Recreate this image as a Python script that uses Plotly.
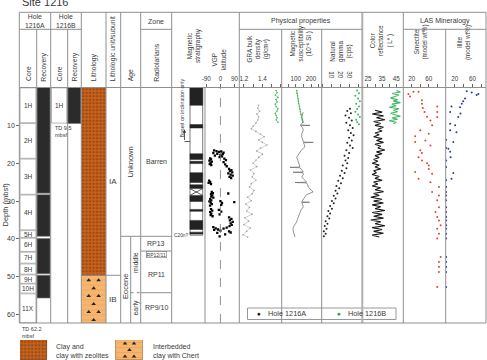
import plotly.graph_objects as go
import numpy as np

W, H = 487, 360
def X(px): return px / W
def Y(py): return 1 - py / H

# ---------------- DATA ----------------
core_a_names = ["1H", "2H", "3H", "4H", "5H", "6H", "7H", "8H", "9H", "10H", "11X"]
core_a_top = [0, 9.4, 18.8, 28.3, 37.7, 39.7, 43.4, 46.5, 49.4, 51.8, 54.4]
core_a_bot = [9.4, 18.8, 28.3, 37.7, 39.7, 43.4, 46.5, 49.4, 51.8, 54.4, 62.2]
rec_a_top = [0, 28.3, 39.9, 49.6]
rec_a_bot = [27.9, 39.3, 49.2, 55.6]
core_b_names = ["1H"]
core_b_top = [0]
core_b_bot = [9.5]
rec_b_top = [0]
rec_b_bot = [9.5]
lith_names = ["Clay and<br>clay with zeolites", "Interbedded<br>clay with Chert"]
lith_top = [0, 49.6]
lith_bot = [49.6, 62.2]
unit_names = ["IA", "IB"]
unit_top = [0, 49.6]
unit_bot = [49.6, 62.2]
zone_names = ["Barren", "RP13", "RP12/11", "RP11", "RP9/10"]
zone_top = [0, 39.3, 43.2, 44.8, 54.2]
zone_bot = [39.3, 43.2, 44.8, 54.2, 62.2]
age_sub_names = ["middle", "early"]
age_sub_top = [39.3, 54.2]
age_sub_bot = [54.2, 62.2]
total_depth = 62.2
hole_names = ["Hole 1216A", "Hole 1216B"]

# polarity (black = normal)
pol_top = [0.0, 9.8, 17.5, 19.5, 22.5, 25.7, 28.5, 32.2, 35.1, 38.2]
pol_bot = [4.7, 10.7, 19.0, 20.1, 25.1, 26.7, 30.1, 32.7, 37.5, 38.7]
pol_base = 39.0
pol_uncertain = [26.7, 28.5]

vgp_depth = [16.6, 16.8, 17.0, 16.9, 17.3, 17.5, 17.8, 17.6, 18.0, 18.2, 18.4, 17.2,
             18.7, 19.0, 19.3, 19.6, 19.9, 20.2, 20.5, 18.8, 19.2, 19.7, 20.3, 20.8,
             21.5, 21.8, 22.1, 22.4, 22.7, 23.0, 23.3, 23.6, 23.9,
             24.6, 24.9, 25.2, 25.5,
             27.6, 27.9, 28.2, 28.5, 28.8, 29.1, 28.0,
             29.4, 29.8, 30.1, 30.4, 30.8, 31.2, 30.0, 30.5, 31.0, 30.3,
             32.1, 32.5, 32.9, 33.3, 33.7, 34.0, 32.3, 32.8, 33.5,
             34.3, 34.7, 35.1, 35.5, 35.9, 36.3, 36.6,
             36.9, 37.2, 37.5, 37.8, 37.3, 37.0, 38.0, 38.3, 37.6, 38.4, 38.8, 39.3]
vgp_lat = [-40, -25, -10, 5, -45, -20, 0, 15, -35, 10, -5, 20,
           -65, -60, -70, -55, -62, -68, -58, 25, 35, 20, 30, 40,
           55, 70, 60, 75, 50, 65, 78, 58, 68,
           -72, -65, -75, -60,
           -55, -48, -60, -52, -58, -45, 50,
           -65, -58, -70, -62, -55, -66, 0, 10, 5, 88,
           -60, -52, -65, -58, -62, -50, -10, 5, -5,
           55, 70, 60, 78, 65, 72, 58,
           -45, -30, -15, 0, 20, 40, 55, 65, -40, -20, 30, -5]

gra_a_depth = [4.7, 5.5, 6.3, 7.0, 7.8, 8.6, 9.4, 10.2, 10.9, 11.6, 12.3, 13.0, 13.8, 14.5, 15.2,
               16.0, 16.8, 17.6, 18.4, 19.2, 20.0, 20.9, 21.8, 22.7, 23.6, 24.5, 25.4, 26.3, 27.2,
               28.1, 29.0, 29.9, 30.8, 31.7, 32.6, 33.5, 34.4, 35.3, 36.2, 37.1, 38.0, 38.9, 39.5]
gra_a_val = [1.36, 1.35, 1.37, 1.34, 1.36, 1.35, 1.33, 1.30, 1.28, 1.33, 1.38, 1.42, 1.36, 1.40, 1.45,
             1.38, 1.34, 1.40, 1.36, 1.33, 1.30, 1.34, 1.27, 1.31, 1.29, 1.33, 1.28, 1.26, 1.31,
             1.29, 1.24, 1.28, 1.22, 1.26, 1.23, 1.29, 1.21, 1.25, 1.20, 1.27, 1.23, 1.19, 1.24]
gra_b_depth = [0.8, 1.4, 2.0, 2.6, 3.2, 3.8, 4.4, 5.0, 5.6, 6.2, 6.8, 7.4, 8.0, 8.6, 9.2]
gra_b_val = [1.55, 1.56, 1.54, 1.57, 1.55, 1.56, 1.54, 1.55, 1.57, 1.56, 1.54, 1.55, 1.56, 1.55, 1.57]

ms_a_depth = [6.5, 7.2, 7.8, 8.5, 9.2, 9.9, 10.0, 10.1, 10.6, 11.3, 12.2, 13.1, 13.8, 14.4, 14.5, 14.6,
              15.1, 15.7, 16.4, 17.1, 17.8, 18.4, 19.0, 19.7, 20.4, 21.0, 21.1, 21.2, 21.7, 22.3, 22.4,
              22.5, 23.0, 23.6, 24.3, 25.0, 25.1, 25.2, 25.7, 26.3, 27.0, 27.6, 28.3, 28.9, 29.5, 30.2,
              30.3, 30.4, 30.9, 31.6, 32.3, 32.9, 33.6, 34.2, 34.9, 35.5, 36.2, 36.9, 37.6, 38.2, 38.9, 39.5]
ms_a_val = [149, 142, 139, 146, 149, 130, 193, 132, 145, 149, 140, 139, 146, 150, 215, 150,
            156, 160, 140, 128, 115, 106, 112, 117, 122, 128, 62, 126, 140, 149, 82,
            147, 150, 139, 155, 172, 95, 170, 178, 182, 200, 213, 170, 160, 150, 139,
            190, 140, 145, 149, 135, 128, 120, 117, 110, 106, 95, 84, 82, 84, 90, 95]
ms_b_depth = [0.8, 1.5, 2.2, 2.9, 3.6, 4.3, 5.0, 5.7, 6.4, 7.1, 7.8, 8.5, 9.2]
ms_b_val = [106, 108, 112, 115, 117, 120, 124, 127, 130, 134, 138, 142, 146]

ng_a_depth = [5.6, 6.2, 6.8, 7.4, 8.0, 8.7, 9.3, 10.0, 10.7, 11.3, 12.0, 12.6, 13.3, 14.0, 14.6, 15.3,
              16.0, 16.6, 17.3, 18.0, 18.6, 19.3, 20.0, 20.6, 21.3, 22.0, 22.6, 23.3, 24.0, 24.6, 25.3,
              26.0, 26.6, 27.3, 28.0, 28.6, 29.3, 30.0, 30.6, 31.3, 32.0, 32.6, 33.3, 34.0, 34.6, 35.3,
              36.0, 36.6, 37.3, 38.0, 38.6, 39.3]
ng_a_val = [30, 27, 31, 25, 29, 32, 26, 30, 33, 28, 31, 34, 29, 32, 27, 30,
            33, 26, 29, 24, 28, 25, 27, 22, 26, 21, 24, 19, 22, 17, 20,
            15, 18, 14, 16, 12, 14, 10, 12, 8, 10, 6, 8, 5, 7, 3,
            5, 2, 4, 1, 3, 1]
ng_b_depth = [0.8, 1.5, 2.2, 2.9, 3.6, 4.3, 5.0, 5.7, 6.4, 7.1, 7.8, 8.5, 9.2, 9.7]
ng_b_val = [38, 40, 36, 39, 41, 37, 40, 38, 36, 39, 41, 37, 38, 40]

cr_a_depth = [6.0, 6.5, 7.0, 7.5, 8.0, 8.5, 9.0, 9.5, 10.0, 10.5, 11.0, 11.5, 12.0, 12.5, 13.0, 13.5,
              14.0, 14.5, 15.0, 15.5, 16.0, 16.5, 17.0, 17.5, 18.0, 18.5, 19.0, 19.5, 20.0, 20.5,
              21.0, 21.5, 22.0, 22.5, 23.0, 23.5, 24.0, 24.5, 25.0, 25.5, 26.0, 26.5, 27.0, 27.5,
              28.0, 28.5, 29.0, 29.5, 30.0, 30.5, 31.0, 31.5, 32.0, 32.5, 33.0, 33.5, 34.0, 34.5,
              35.0, 35.5, 36.0, 36.5, 37.0, 37.5, 38.0, 38.5, 39.0, 39.5]
cr_a_val = [30, 35, 28, 36, 31, 37, 29, 34, 30, 36, 32, 35, 30, 33, 29, 35,
            31, 36, 30, 34, 32, 37, 31, 35, 30, 33, 29, 32, 28, 33,
            30, 34, 29, 31, 28, 33, 30, 35, 29, 32, 28, 34, 30, 36,
            29, 33, 27, 35, 29, 36, 28, 34, 30, 37, 28, 35, 29, 36,
            27, 34, 30, 37, 28, 35, 29, 36, 28, 33]
cr_b_depth = [0.8, 1.2, 1.6, 2.0, 2.4, 2.8, 3.2, 3.6, 4.0, 4.4, 4.8, 5.2, 5.6, 6.0, 6.4, 6.8,
              7.2, 7.6, 8.0, 8.4, 8.8, 9.2, 9.6]
cr_b_val = [45, 48, 42, 47, 44, 41, 46, 43, 48, 42, 45, 40, 47, 43, 46, 41,
            44, 48, 42, 46, 40, 45, 43]

sm_depth = [1.1, 1.1, 1.7, 2.4, 3.4, 4.3, 5.0, 5.4, 6.5, 6.5, 7.7, 7.8, 8.7, 10.0, 11.3, 12.2,
            12.9, 14.0, 14.4, 15.3, 16.6, 17.3, 18.4, 19.3, 20.0, 20.6, 21.5, 22.3, 22.8, 24.1,
            25.0, 26.3, 27.6, 28.5, 29.8, 31.6, 32.9, 34.2, 35.1, 36.4, 37.3, 38.6, 39.9, 44.8,
            46.1, 47.4, 48.7, 52.7]
sm_val = [24, 36, 12, 16, 44, 44, 80, 46, 50, 80, 56, 80, 64, 68, 40, 60,
          28, 52, 28, 64, 40, 44, 36, 44, 56, 60, 60, 28, 68, 36,
          64, 84, 68, 84, 80, 84, 76, 80, 84, 88, 80, 84, 80, 88,
          84, 84, 84, 80]

il_depth = [1.0, 1.3, 1.7, 2.0, 2.9, 3.6, 4.3, 5.0, 5.2, 6.5, 6.9, 7.8, 9.6, 10.0, 11.3, 11.8,
            13.8, 14.4, 16.0, 16.2, 17.0, 18.4, 19.3, 21.0, 22.6, 24.1, 24.5, 26.3, 27.6, 28.5,
            29.8, 31.6, 32.9, 34.2, 35.1, 36.4, 37.3, 38.6, 39.9, 44.8, 46.1, 47.4, 48.7, 52.7]
il_val = [47, 58, 73, 69, 43, 39, 36, 13, 32, 10, 33, 28, 10, 21, 10, 24,
          1, 17, 1, 6, 10, 11, 1, 1, 17, 13, 1, 1, 1, 1,
          1, 1, 1, 1, 1, 1, 1, 1, 1, 1, 1, 1, 1, 1]

# ---------------- STYLE ----------------
FONT = "Liberation Sans, Arial, sans-serif"
TXT = "#3a3a3a"
LINE = "#8f8f8f"
GREEN = "#3fb565"
BROWN = "#c4621e"
CHERT = "#f6b66e"

fig = go.Figure()
shapes = []
anns = []

def vline(px, y0, y1, color=LINE, width=1, dash=None):
    shapes.append(dict(type="line", xref="paper", yref="paper", x0=X(px), x1=X(px),
                       y0=Y(y0), y1=Y(y1), line=dict(color=color, width=width, dash=dash)))

def hline(py, x0, x1, color=LINE, width=1):
    shapes.append(dict(type="line", xref="paper", yref="paper", x0=X(x0), x1=X(x1),
                       y0=Y(py), y1=Y(py), line=dict(color=color, width=width)))

def hline_d(depth, x0, x1, color=LINE, width=1, dash=None):
    shapes.append(dict(type="line", xref="paper", yref="y", x0=X(x0), x1=X(x1),
                       y0=depth, y1=depth, line=dict(color=color, width=width, dash=dash)))

def rect_d(x0, x1, d0, d1, fill, color=LINE, width=0.8):
    shapes.append(dict(type="rect", xref="paper", yref="y", x0=X(x0), x1=X(x1),
                       y0=d0, y1=d1, fillcolor=fill, line=dict(color=color, width=width)))

def ann(text, px, py=None, depth=None, size=7, angle=0, xanchor="center", yanchor="middle",
        align="center", color=TXT, **kw):
    d = dict(text=text, xref="paper", x=X(px), showarrow=False, textangle=angle,
             xanchor=xanchor, yanchor=yanchor, align=align,
             font=dict(family=FONT, size=size, color=color))
    if depth is not None:
        d.update(yref="y", y=depth)
    else:
        d.update(yref="paper", y=Y(py))
    d.update(kw)
    anns.append(d)

# column x positions (px)
C = dict(left=19.3, ca=36.7, ra=50.7, cb=67.7, rb=81.3, lith=106, unit=120.7, age=140.7,
         zone=171.7, mag=205, vgp=239.3, gra=281.7, ms=321.7, ng=362.3, cr=403.3, sm=445.7, right=486)
TOP, ROW, PTOP, PBOT = 12.3, 29.3, 87.5, 323

# ----- core boxes -----
for n, t, b in zip(core_a_names, core_a_top, core_a_bot):
    rect_d(C["left"] + 0.8, C["ca"] - 0.8, t + 0.1, b - 0.1, "white", color="#9a9a9a", width=0.7)
    ann(n, (C["left"] + C["ca"]) / 2, depth=(t + b) / 2, size=6.5)
for t, b in zip(rec_a_top, rec_a_bot):
    rect_d(C["ca"] + 0.3, C["ra"] - 0.7, t, b, "#2b2b2b", color="#777", width=0.6)
for n, t, b in zip(core_b_names, core_b_top, core_b_bot):
    rect_d(C["ra"] + 0.8, C["cb"] - 0.8, t + 0.1, b - 0.1, "white", color="#9a9a9a", width=0.7)
    ann(n, (C["ra"] + C["cb"]) / 2, depth=(t + b) / 2, size=6.5)
for t, b in zip(rec_b_top, rec_b_bot):
    rect_d(C["cb"] - 0.5, C["rb"] - 0.4, t, b, "#2b2b2b", color="#777", width=0.6)
ann("TD 9.5<br>mbsf", 53.3, 131.5, size=5.5, xanchor="left", align="left")
ann("TD 62.2<br>mbsf", 20, 332, size=5.5, xanchor="left", align="left")

# ----- lithology bars -----
fig.add_trace(go.Bar(x=[0.5], y=[lith_bot[0] - lith_top[0]], base=[lith_top[0]], width=[1],
                     xaxis="x8", yaxis="y", showlegend=False, hoverinfo="skip",
                     marker=dict(color=BROWN, line=dict(width=0),
                                 pattern=dict(shape=".", fgcolor="#6e2f0a", size=3.5, solidity=0.35))))
fig.add_trace(go.Bar(x=[0.5], y=[lith_bot[1] - lith_top[1]], base=[lith_top[1]], width=[1],
                     xaxis="x8", yaxis="y", showlegend=False, hoverinfo="skip",
                     marker=dict(color=CHERT, line=dict(width=0),
                                 pattern=dict(shape="-", fgcolor="#c88a48", size=5, solidity=0.12))))
rows = np.arange(lith_top[1] + 1.3, lith_bot[1] - 0.6, 2.1)
tx, ty = [], []
for i, r in enumerate(rows):
    cols = [0.3, 0.7] if i % 2 == 0 else [0.5]
    for c in cols:
        tx.append(c); ty.append(r)
fig.add_trace(go.Scatter(x=tx, y=ty, mode="markers", xaxis="x8", yaxis="y", showlegend=False,
                         hoverinfo="skip", marker=dict(symbol="triangle-up", size=4, color="#222")))
hline_d(lith_top[1], C["rb"], C["unit"])

# ----- units / age / zones -----
for n, t, b in zip(unit_names, unit_top, unit_bot):
    ann(n, (C["lith"] + C["unit"]) / 2, depth=(t + b) / 2, size=8)
ann("Unknown", (C["unit"] + C["age"]) / 2, depth=zone_bot[0] / 2, size=7.5, angle=-90)
ann("Eocene", 125.7, depth=52.5, size=7.5, angle=-90)
for n, t, b in zip(age_sub_names, age_sub_top, age_sub_bot):
    ann(n, 135.7, depth=(t + b) / 2 - (0.6 if n == "middle" else 0), size=7, angle=-90)
shapes.append(dict(type="line", xref="paper", yref="y", x0=X(130.7), x1=X(130.7),
                   y0=age_sub_top[0], y1=total_depth, line=dict(color=LINE, width=1)))
hline_d(zone_top[1], C["unit"], C["zone"])
hline_d(zone_top[2], C["age"], C["zone"])
hline_d(zone_top[4], C["age"], C["zone"])
hline_d(age_sub_top[1], 130.7, C["age"], dash="dot")
for n, t, b in zip(zone_names, zone_top, zone_bot):
    if n == "RP12/11":
        ann(n, (C["age"] + C["zone"]) / 2, depth=(t + b) / 2, size=5,
            bordercolor="#777", borderwidth=0.6, borderpad=0)
    else:
        ann(n, (C["age"] + C["zone"]) / 2, depth=(t + b) / 2, size=7)

# ----- polarity column -----
rect_d(190, 202.7, 0, pol_base, "white", color="#555", width=0.8)
for t, b in zip(pol_top, pol_bot):
    rect_d(190, 202.7, t, b, "#222", color="#222", width=0.5)
shapes.append(dict(type="line", xref="paper", yref="y", x0=X(190), x1=X(202.7),
                   y0=pol_uncertain[0], y1=pol_uncertain[1], line=dict(color="#333", width=0.8)))
shapes.append(dict(type="line", xref="paper", yref="y", x0=X(190), x1=X(202.7),
                   y0=pol_uncertain[1], y1=pol_uncertain[0], line=dict(color="#333", width=0.8)))
ann("C20n?", 189.5, depth=pol_base + 0.2, size=4.8, xanchor="right")
ann("Based on inclination only", 181.5, 108, size=5.3, angle=-90)
anns.append(dict(xref="paper", yref="paper", x=X(184.5), y=Y(129.5), ax=0, ay=12,
                 axref="pixel", ayref="pixel", text="", showarrow=True, arrowhead=2,
                 arrowsize=0.8, arrowwidth=0.8, arrowcolor="#333"))
hline(141.5, 184.5, 190, color="#333", width=0.8)

# ----- data axes -----
def dax(dom, rng, tv, tt, visible=True):
    return dict(domain=[X(dom[0]), X(dom[1])], range=rng, anchor="y", side="top",
                tickvals=tv, ticktext=tt, ticks="outside", ticklen=2.5, tickcolor="#666",
                tickfont=dict(family=FONT, size=6.3, color=TXT), showgrid=False, zeroline=False,
                showline=False, visible=visible, fixedrange=True)

layout_axes = dict(
    xaxis=dax((C["mag"], C["vgp"]), [-98, 120], [-90, 0, 90], ["-90", "0", "90"]),
    xaxis2=dax((C["vgp"], C["gra"]), [1.15, 1.61], [1.2, 1.3, 1.4, 1.5, 1.6], ["1.2", "", "1.4", "", ""]),
    xaxis3=dax((C["gra"], C["ms"]), [8, 270], [50, 100, 150, 200, 250], ["", "100", "", "200", ""]),
    xaxis4=dax((C["ms"], C["ng"]), [-1.4, 43.7], [0, 10, 20, 30, 40], ["", "10", "20", "30", ""]),
    xaxis5=dax((C["ng"], C["cr"]), [21, 50], [25, 30, 35, 40, 45], ["25", "", "35", "", "45"]),
    xaxis6=dax((C["cr"], C["sm"]), [0, 100], [20, 40, 60, 80], ["20", "", "60", ""]),
    xaxis7=dax((C["sm"], C["right"]), [0, 90], [20, 40, 60, 80], ["20", "", "60", ""]),
    xaxis8=dax((C["rb"], C["lith"]), [0, 1], [], [], visible=False),
)

# VGP
shapes.append(dict(type="line", xref="x", yref="paper", x0=0, x1=0, y0=Y(PBOT), y1=Y(PTOP),
                   line=dict(color="#777", width=0.8, dash="dash")))
fig.add_trace(go.Scatter(x=vgp_lat, y=vgp_depth, mode="markers", xaxis="x", yaxis="y",
                         showlegend=False, marker=dict(color="black", size=2.3, symbol="square")))
# GRA
fig.add_trace(go.Scatter(x=gra_a_val, y=gra_a_depth, mode="lines+markers", xaxis="x2", yaxis="y",
                         showlegend=False, line=dict(color="#b0b0b0", width=0.6),
                         marker=dict(color="#a0a0a0", size=1.6)))
fig.add_trace(go.Scatter(x=gra_b_val, y=gra_b_depth, mode="lines+markers", xaxis="x2", yaxis="y",
                         showlegend=False, line=dict(color=GREEN, width=0.6),
                         marker=dict(color=GREEN, size=1.6)))
# Mag sus
fig.add_trace(go.Scatter(x=ms_a_val, y=ms_a_depth, mode="lines", xaxis="x3", yaxis="y",
                         showlegend=False, line=dict(color="#666", width=0.7)))
fig.add_trace(go.Scatter(x=ms_b_val, y=ms_b_depth, mode="lines+markers", xaxis="x3", yaxis="y",
                         showlegend=False, line=dict(color=GREEN, width=0.8),
                         marker=dict(color=GREEN, size=1.6)))
# Natural gamma
fig.add_trace(go.Scatter(x=ng_a_val, y=ng_a_depth, mode="markers", xaxis="x4", yaxis="y",
                         showlegend=False, marker=dict(color="#222", size=2.0)))
fig.add_trace(go.Scatter(x=ng_b_val, y=ng_b_depth, mode="markers", xaxis="x4", yaxis="y",
                         showlegend=False, marker=dict(color=GREEN, size=2.0)))
# Color reflectance
fig.add_trace(go.Scatter(x=cr_a_val, y=cr_a_depth, mode="lines", xaxis="x5", yaxis="y",
                         showlegend=False, line=dict(color="#1a1a1a", width=1.1)))
fig.add_trace(go.Scatter(x=cr_b_val, y=cr_b_depth, mode="lines", xaxis="x5", yaxis="y",
                         showlegend=False, line=dict(color=GREEN, width=1.1)))
# LAS
fig.add_trace(go.Scatter(x=sm_val, y=sm_depth, mode="markers", xaxis="x6", yaxis="y",
                         showlegend=False, marker=dict(color="#e2452e", size=2.0)))
fig.add_trace(go.Scatter(x=il_val, y=il_depth, mode="markers", xaxis="x7", yaxis="y",
                         showlegend=False, marker=dict(color="#2c3a9e", size=2.0)))

# hole legend box (drawn manually)
shapes.append(dict(type="rect", xref="paper", yref="paper", x0=X(247.5), x1=X(396), y0=Y(319.5),
                   y1=Y(308), fillcolor="white", line=dict(color="#999", width=1)))
ann("●", 258.7, 313.8, size=6.5, color="#222")
ann(hole_names[0], 266, 313.8, size=7.3, xanchor="left")
ann("●", 338.7, 313.8, size=6.5, color="#2e9a55")
ann(hole_names[1], 346, 313.8, size=7.3, xanchor="left")

# lithology legend swatches
fig.add_trace(go.Bar(x=[13.5], y=[1], width=[27], xaxis="x9", yaxis="y2", showlegend=False,
                     hoverinfo="skip",
                     marker=dict(color=BROWN, line=dict(color="#7a3a10", width=0.8),
                                 pattern=dict(shape=".", fgcolor="#6e2f0a", size=3.5, solidity=0.35))))
fig.add_trace(go.Bar(x=[109.5], y=[1], width=[27], xaxis="x9", yaxis="y2", showlegend=False,
                     hoverinfo="skip",
                     marker=dict(color=CHERT, line=dict(color="#b07a40", width=0.8),
                                 pattern=dict(shape="-", fgcolor="#c88a48", size=5, solidity=0.12))))
fig.add_trace(go.Scatter(x=[105, 114, 109.5, 105, 114], y=[0.82, 0.82, 0.5, 0.18, 0.18], mode="markers",
                         xaxis="x9", yaxis="y2", showlegend=False, hoverinfo="skip",
                         marker=dict(symbol="triangle-up", size=4, color="#222")))
ann(lith_names[0], 54, 351, size=7, xanchor="left", align="left")
ann(lith_names[1], 151, 351, size=7, xanchor="left", align="left")

# ----- grid lines -----
for px in [C["left"], C["ra"], C["rb"], C["lith"], C["unit"], C["age"], C["zone"], C["vgp"], C["cr"], C["right"]]:
    vline(px, TOP, PBOT)
vline(C["ng"], TOP, PBOT, color="#b0b0b0", width=2)
for px in [C["ca"], C["cb"], C["gra"], C["ms"], C["sm"]]:
    vline(px, ROW, PBOT)
vline(C["mag"], PTOP, PBOT)
hline(TOP, C["left"], C["right"])
for a, b in [(C["left"], C["rb"]), (C["age"], C["zone"]), (C["vgp"], C["ng"]), (C["cr"], C["right"])]:
    hline(ROW, a, b)
hline(PTOP, C["left"], C["right"])
hline(PBOT, C["left"], C["right"])

# ----- header text -----
ann("Site 1216", 20, 2.5, size=11, xanchor="left")
ann("Hole<br>1216A", (C["left"] + C["ra"]) / 2, 21, size=6.8)
ann("Hole<br>1216B", (C["ra"] + C["rb"]) / 2, 21, size=6.8)
ann("Zone", (C["age"] + C["zone"]) / 2, 21, size=7)
ann("Physical properties", (C["vgp"] + C["ng"]) / 2, 21, size=7)
ann("LAS Mineralogy", (C["cr"] + C["right"]) / 2, 21, size=7)
for txt, px in [("Core", 28), ("Recovery", 43.7), ("Core", 59.2), ("Recovery", 74.5),
                ("Lithology", 93.7), ("Lithologic unit/subunit", 113.4), ("Age", 130.7),
                ("Radiolarians", 156.2)]:
    ann(txt, px, 83.5, size=6.8, angle=-90, yanchor="bottom")
ann("Magnetic<br>stratigraphy", 193.5, 65, size=6.5, angle=-90, yanchor="bottom")
ann("VGP<br>latitude", 218.7, 72, size=6.5, angle=-90, yanchor="bottom")
ann("GRA bulk<br>density<br>(g/cm³)", 257, 65, size=6.3, angle=-90, yanchor="bottom")
ann("Magnetic<br>susceptibility<br>(10⁻⁶ SI )", 300, 64, size=6.3, angle=-90, yanchor="bottom")
ann("Natural<br>gamma<br>(cps)", 340.5, 64, size=6.3, angle=-90, yanchor="bottom")
ann("Color<br>reflectance<br>( L* )", 381.7, 58, size=6.3, angle=-90, yanchor="bottom")
ann("Smectite<br>(model wt%)", 420, 62, size=6.3, angle=-90, yanchor="bottom")
ann("Illite<br>(model wt%)", 463.5, 62, size=6.3, angle=-90, yanchor="bottom")
ann("Depth (mbsf)", 4.5, 205, size=7.5, angle=-90)

fig.update_layout(
    width=W, height=H, margin=dict(l=0, r=0, t=0, b=0, autoexpand=False),
    paper_bgcolor="white", plot_bgcolor="rgba(0,0,0,0)",
    barmode="overlay", bargap=0, showlegend=False,
    font=dict(family=FONT, size=7, color=TXT),
    yaxis=dict(domain=[Y(PBOT), Y(PTOP)], range=[total_depth, 0], anchor="free", position=X(C["left"]),
               tickvals=[10, 20, 30, 40, 50, 60], ticks="outside", ticklen=3, tickcolor="#666",
               tickfont=dict(family=FONT, size=7, color=TXT), showgrid=False, zeroline=False,
               showline=False, fixedrange=True),
    yaxis2=dict(domain=[0, Y(340)], range=[0, 1], anchor="x9", visible=False, fixedrange=True),
    xaxis9=dict(domain=[X(20), X(143)], range=[0, 123], anchor="y2", visible=False, fixedrange=True),
    shapes=shapes, annotations=anns,
    **layout_axes,
)
fig.write_html("out.html")
